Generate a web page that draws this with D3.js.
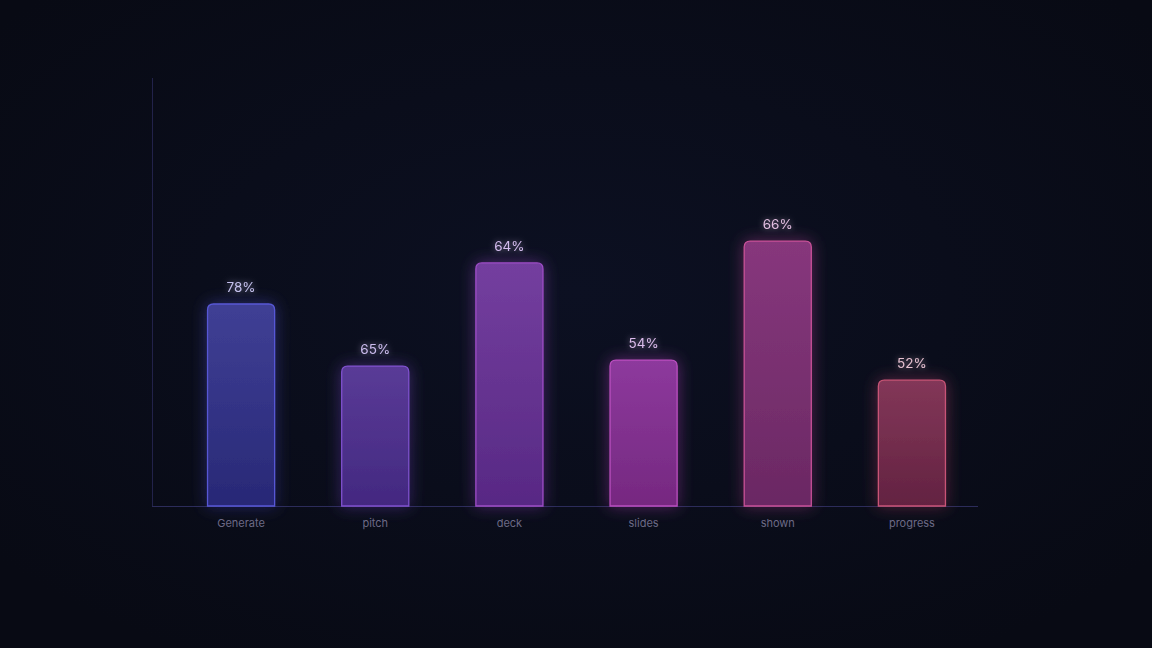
<!DOCTYPE html>
<html>
<head>
<meta charset="utf-8">
<script src="https://cdn.jsdelivr.net/npm/d3@7"></script>
<style>
html,body{margin:0;padding:0;background:#0a0c18;}
svg{display:block;}
</style>
</head>
<body>
<svg id="chart" width="1152" height="648"></svg>
<script>
const categories = ["Generate","pitch","deck","slides","shown","progress"];
const barValues = [47.2, 32.7, 56.8, 34.1, 61.9, 29.4];
const valueLabels = ["78%","65%","64%","54%","66%","52%"];
const fillTop = ["#43439c","#5e3e9e","#7a42a6","#943ca4","#8e3a82","#8a3a5c"];
const fillBottom = ["#2a2a7c","#472a86","#5c2a8a","#7c2a86","#702a68","#682444"];
const strokes = ["#5c5ce0","#8656d8","#a650d0","#c452c8","#d2559e","#d4587c"];
const labelColors = ["#c4c0ec","#ccbcee","#d4bcee","#dcbcec","#e2bee0","#e6c0d0"];

const svg = d3.select("#chart");
const W = 1152, H = 648;
const defs = svg.append("defs");

const bg = defs.append("radialGradient").attr("id","bg").attr("cx","50%").attr("cy","45%").attr("r","65%");
bg.append("stop").attr("offset","0%").attr("stop-color","#0c1022");
bg.append("stop").attr("offset","100%").attr("stop-color","#080a14");
svg.append("rect").attr("width",W).attr("height",H).attr("fill","url(#bg)");

const glow = defs.append("filter").attr("id","glow").attr("x","-50%").attr("y","-50%").attr("width","200%").attr("height","200%");
glow.append("feGaussianBlur").attr("in","SourceGraphic").attr("stdDeviation",8).attr("result","b");
glow.append("feComponentTransfer").attr("in","b").attr("result","b2")
  .append("feFuncA").attr("type","linear").attr("slope",0.6);
const m = glow.append("feMerge");
m.append("feMergeNode").attr("in","b2");
m.append("feMergeNode").attr("in","SourceGraphic");

const tglow = defs.append("filter").attr("id","tglow").attr("x","-50%").attr("y","-50%").attr("width","200%").attr("height","200%");
tglow.append("feGaussianBlur").attr("in","SourceGraphic").attr("stdDeviation",3).attr("result","b");
tglow.append("feComponentTransfer").attr("in","b").attr("result","b2")
  .append("feFuncA").attr("type","linear").attr("slope",0.6);
const m2 = tglow.append("feMerge");
m2.append("feMergeNode").attr("in","b2");
m2.append("feMergeNode").attr("in","SourceGraphic");

categories.forEach((c,i)=>{
  const g = defs.append("linearGradient").attr("id","g"+i).attr("x1",0).attr("y1",0).attr("x2",0).attr("y2",1);
  g.append("stop").attr("offset","0%").attr("stop-color",fillTop[i]);
  g.append("stop").attr("offset","100%").attr("stop-color",fillBottom[i]);
});

const x = d3.scaleBand().domain(categories).range([174, 979]).paddingInner(0.5).paddingOuter(0.25);
const y = d3.scaleLinear().domain([0,100]).range([506, 78]);

// axes
svg.append("line").attr("x1",152.5).attr("x2",152.5).attr("y1",y(100)).attr("y2",y(0))
  .attr("stroke","#22224a").attr("stroke-width",1);
svg.append("line").attr("x1",152).attr("x2",978).attr("y1",y(0)+0.5).attr("y2",y(0)+0.5)
  .attr("stroke","#2c2c5a").attr("stroke-width",1);

const bars = svg.append("g");
categories.forEach((c,i)=>{
  const bx = x(c), bw = x.bandwidth(), top = y(barValues[i]);
  const r = 6;
  const p = `M${bx},${y(0)} L${bx},${top+r} Q${bx},${top} ${bx+r},${top} L${bx+bw-r},${top} Q${bx+bw},${top} ${bx+bw},${top+r} L${bx+bw},${y(0)} Z`;
  bars.append("path").attr("d",p).attr("fill","url(#g"+i+")").attr("stroke",strokes[i]).attr("stroke-width",1.3)
    .attr("filter","url(#glow)").attr("opacity",0.95);
  svg.append("text").attr("x",bx+bw/2).attr("y",top-12).attr("text-anchor","middle")
    .attr("font-family","Inter, 'Noto Sans', sans-serif").attr("font-size",13.5)
    .attr("fill",labelColors[i]).attr("filter","url(#tglow)").text(valueLabels[i]);
  svg.append("text").attr("x",bx+bw/2).attr("y",y(0)+21).attr("text-anchor","middle")
    .attr("font-family","Inter, 'Noto Sans', sans-serif").attr("font-size",11)
    .attr("fill","#6c6a86").text(c);
});
</script>
</body>
</html>
